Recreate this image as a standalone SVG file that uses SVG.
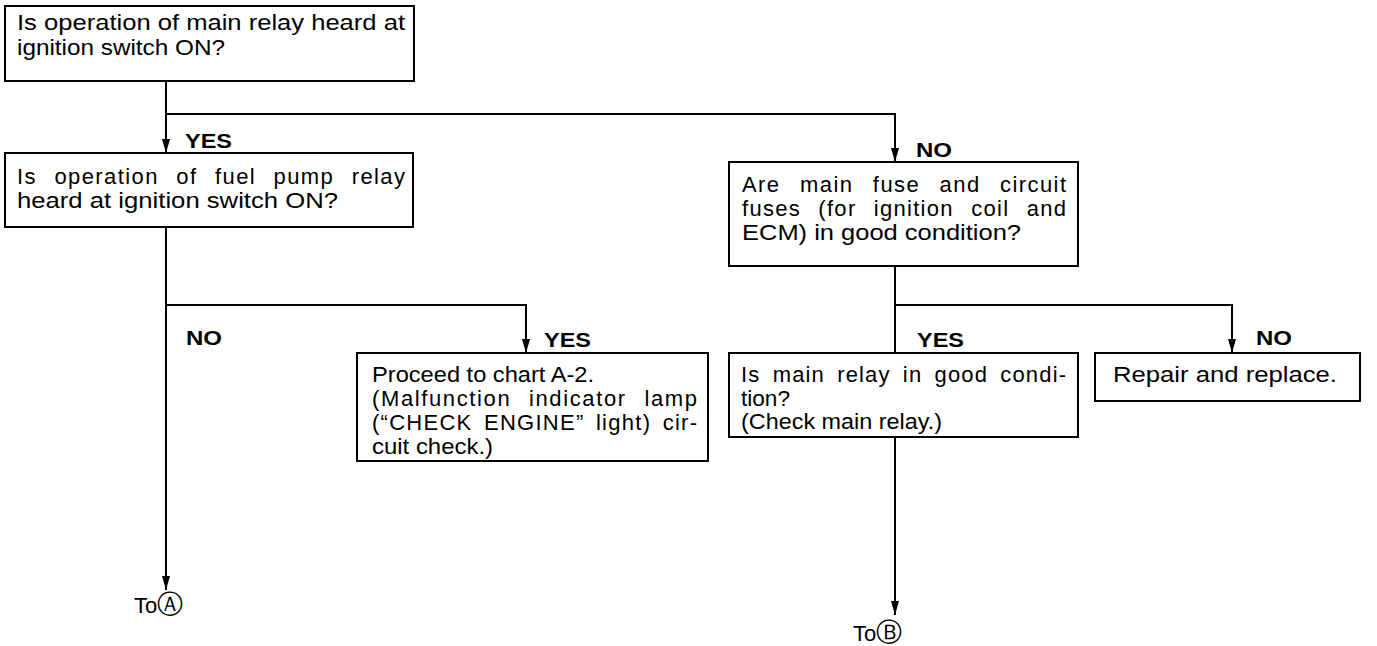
<svg xmlns="http://www.w3.org/2000/svg" width="1377" height="646" viewBox="0 0 1377 646">
<defs>
<marker id="arr" markerUnits="userSpaceOnUse" viewBox="0 0 14 8" refX="14" refY="4" markerWidth="14" markerHeight="8" orient="auto">
<path d="M0,0 L14,4 L0,8 z" fill="#000"/>
</marker>
<style>
.box{fill:#fff;stroke:#000;stroke-width:2}
.t{font-family:"Liberation Sans",Arial,sans-serif;font-size:22px;fill:#000}
.lbl{font-family:"Liberation Sans",Arial,sans-serif;font-size:20px;font-weight:bold;fill:#000}
.c{fill:none;stroke:#000;stroke-width:2}
.circ{font-family:"DejaVu Sans",sans-serif;font-size:26px;fill:#000}
</style>
</defs>
<rect width="1377" height="646" fill="#fff"/>
<g id="connectors">
<path class="c" d="M166,81 V153" marker-end="url(#arr)"/>
<path class="c" d="M166,114 H895 V162" marker-end="url(#arr)"/>
<path class="c" d="M166,227 V590" marker-end="url(#arr)"/>
<path class="c" d="M166,305 H526 V353" marker-end="url(#arr)"/>
<path class="c" d="M895,266 V615" marker-end="url(#arr)"/>
<path class="c" d="M895,305 H1232 V353" marker-end="url(#arr)"/>
<text class="lbl" x="185" y="148" textLength="47" lengthAdjust="spacingAndGlyphs">YES</text>
<text class="lbl" x="916" y="157" textLength="36" lengthAdjust="spacingAndGlyphs">NO</text>
<text class="lbl" x="186" y="345" textLength="36" lengthAdjust="spacingAndGlyphs">NO</text>
<text class="lbl" x="544" y="347" textLength="47" lengthAdjust="spacingAndGlyphs">YES</text>
<text class="lbl" x="917" y="347" textLength="47" lengthAdjust="spacingAndGlyphs">YES</text>
<text class="lbl" x="1256" y="345" textLength="36" lengthAdjust="spacingAndGlyphs">NO</text>
</g>
<g id="q1">
<rect class="box" x="5" y="6" width="409" height="75"/>
<text class="t" x="17" y="30" textLength="388" lengthAdjust="spacingAndGlyphs">Is operation of main relay heard at</text>
<text class="t" x="17" y="55" textLength="208" lengthAdjust="spacingAndGlyphs">ignition switch ON?</text>
</g>
<g id="q2">
<rect class="box" x="5" y="153" width="408" height="74"/>
<text class="t" x="17" y="184" textLength="388" lengthAdjust="spacing" word-spacing="10">Is operation of fuel pump relay</text>
<text class="t" x="17" y="208" textLength="321" lengthAdjust="spacingAndGlyphs">heard at ignition switch ON?</text>
</g>
<g id="q3">
<rect class="box" x="729" y="162" width="349" height="104"/>
<text class="t" x="742" y="192" textLength="324" lengthAdjust="spacing" word-spacing="12">Are main fuse and circuit</text>
<text class="t" x="742" y="216" textLength="324" lengthAdjust="spacing" word-spacing="10">fuses (for ignition coil and</text>
<text class="t" x="742" y="240" textLength="279" lengthAdjust="spacingAndGlyphs">ECM) in good condition?</text>
</g>
<g id="a2">
<rect class="box" x="357" y="353" width="351" height="108"/>
<text class="t" x="372" y="382" textLength="222" lengthAdjust="spacingAndGlyphs">Proceed to chart A-2.</text>
<text class="t" x="372" y="406" textLength="325" lengthAdjust="spacing" word-spacing="10">(Malfunction indicator lamp</text>
<text class="t" x="372" y="430" textLength="325" lengthAdjust="spacing" word-spacing="4">(“CHECK ENGINE” light) cir-</text>
<text class="t" x="372" y="454" textLength="121" lengthAdjust="spacingAndGlyphs">cuit check.)</text>
</g>
<g id="q4">
<rect class="box" x="729" y="353" width="349" height="84"/>
<text class="t" x="741" y="382" textLength="325" lengthAdjust="spacing" word-spacing="5">Is main relay in good condi-</text>
<text class="t" x="741" y="406" textLength="49" lengthAdjust="spacingAndGlyphs">tion?</text>
<text class="t" x="741" y="429" textLength="201" lengthAdjust="spacingAndGlyphs">(Check main relay.)</text>
</g>
<g id="repair">
<rect class="box" x="1095" y="353" width="265" height="48"/>
<text class="t" x="1113" y="382" textLength="224" lengthAdjust="spacingAndGlyphs">Repair and replace.</text>
</g>
<g id="toA">
<text class="t" x="134" y="613">To<tspan class="circ">Ⓐ</tspan></text>
</g>
<g id="toB">
<text class="t" x="853" y="641">To<tspan class="circ">Ⓑ</tspan></text>
</g>
</svg>
